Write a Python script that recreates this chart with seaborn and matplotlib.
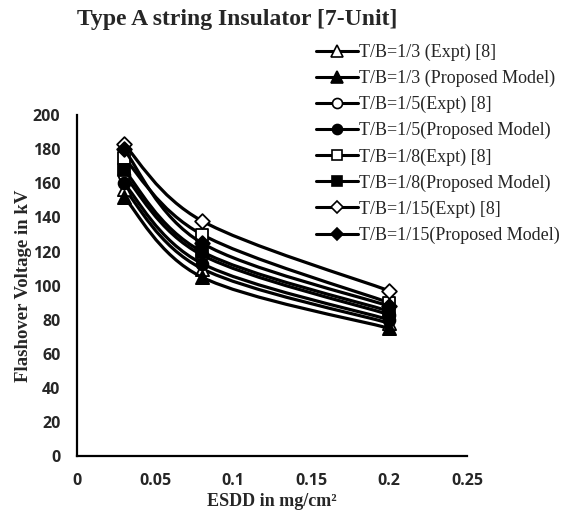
import numpy as np
import matplotlib.pyplot as plt
import seaborn as sns
from matplotlib.path import Path
from matplotlib.patches import PathPatch
from matplotlib.lines import Line2D

# ESDD values (mg/cm2) and flashover voltages (kV)
esdd = [0.03, 0.08, 0.2]
tb3_expt = [157, 110, 78]
tb3_model = [152, 105, 75]
tb5_expt = [165, 118, 83]
tb5_model = [160, 113, 80]
tb8_expt = [175, 130, 90]
tb8_model = [168, 120, 85]
tb15_expt = [183, 138, 97]
tb15_model = [180, 125, 88]

labels = ["T/B=1/3 (Expt) [8]", "T/B=1/3 (Proposed Model)",
          "T/B=1/5(Expt) [8]", "T/B=1/5(Proposed Model)",
          "T/B=1/8(Expt) [8]", "T/B=1/8(Proposed Model)",
          "T/B=1/15(Expt) [8]", "T/B=1/15(Proposed Model)"]
series = [tb3_expt, tb3_model, tb5_expt, tb5_model,
          tb8_expt, tb8_model, tb15_expt, tb15_model]
markers = ["^", "^", "o", "o", "s", "s", "D", "D"]
filled = [False, True, False, True, False, True, False, True]
msizes = [9.5, 9.5, 8.5, 8.5, 8.5, 8.5, 7.5, 7.5]

sns.set_style("white")
serif = "Liberation Serif"
tickfont = "Open Sans"

fig = plt.figure(figsize=(5.67, 5.12), dpi=100)
ax = fig.add_axes([0.136, 0.109, 0.688, 0.666])


def smooth_path(xs, ys):
    # Excel-like smoothed line: cubic bezier through the points
    p = np.column_stack([xs, ys]).astype(float)
    n = len(p)
    verts = [p[0]]
    codes = [Path.MOVETO]
    for i in range(n - 1):
        p0 = p[i - 1] if i > 0 else p[i]
        p3 = p[i + 2] if i + 2 < n else p[i + 1]
        c1 = p[i] + (p[i + 1] - p0) / 6
        c2 = p[i + 1] - (p3 - p[i]) / 6
        verts += [c1, c2, p[i + 1]]
        codes += [Path.CURVE4] * 3
    return Path(verts, codes)


handles = []
for k, (vals, m, f, ms, lab) in enumerate(zip(series, markers, filled, msizes, labels)):
    z = 3 + k
    ax.add_patch(PathPatch(smooth_path(esdd, vals), facecolor="none",
                           edgecolor="black", lw=2.3, zorder=z))
    sns.scatterplot(x=esdd, y=vals, marker=m, s=ms ** 2,
                    color="black" if f else "white", edgecolor="black",
                    linewidth=1.3, ax=ax, zorder=z + 0.5, legend=False)
    handles.append(Line2D([0], [0], color="black", lw=2.2, marker=m,
                          markersize=ms * 0.85,
                          markerfacecolor="black" if f else "white",
                          markeredgecolor="black", markeredgewidth=1.2))

ax.set_xlim(0, 0.25)
ax.set_ylim(0, 200)
ax.set_xticks(np.arange(0, 0.26, 0.05))
ax.set_xticklabels(["0", "0.05", "0.1", "0.15", "0.2", "0.25"])
ax.set_yticks(np.arange(0, 201, 20))
for s in ["top", "right"]:
    ax.spines[s].set_visible(False)
for s in ["left", "bottom"]:
    ax.spines[s].set_linewidth(1.6)
    ax.spines[s].set_color("black")
ax.tick_params(axis="both", direction="out", length=5, width=1.2,
               color="black", labelsize=11.5, pad=7)
for t in ax.get_xticklabels() + ax.get_yticklabels():
    t.set_fontfamily(tickfont)
    t.set_fontweight("bold")

ax.set_xlabel("ESDD in mg/cm²", fontfamily=serif, fontweight="bold",
              fontsize=13)
ax.xaxis.set_label_coords(0.5, -0.108)
ax.set_ylabel("Flashover Voltage in kV", fontfamily=serif, fontweight="bold",
              fontsize=13.5)
ax.yaxis.set_label_coords(-0.115, 0.5)

fig.text(0.418, 0.961, "Type A string Insulator [7-Unit]", fontfamily=serif,
         fontweight="bold", fontsize=17, ha="center", va="center")

fig.legend(handles, labels, loc="upper left", bbox_to_anchor=(0.545, 0.929),
           frameon=False, prop={"family": serif, "size": 13},
           handlelength=2.3, handletextpad=0.08, labelspacing=0.49,
           borderaxespad=0)

fig.savefig("out.png", dpi=100)
